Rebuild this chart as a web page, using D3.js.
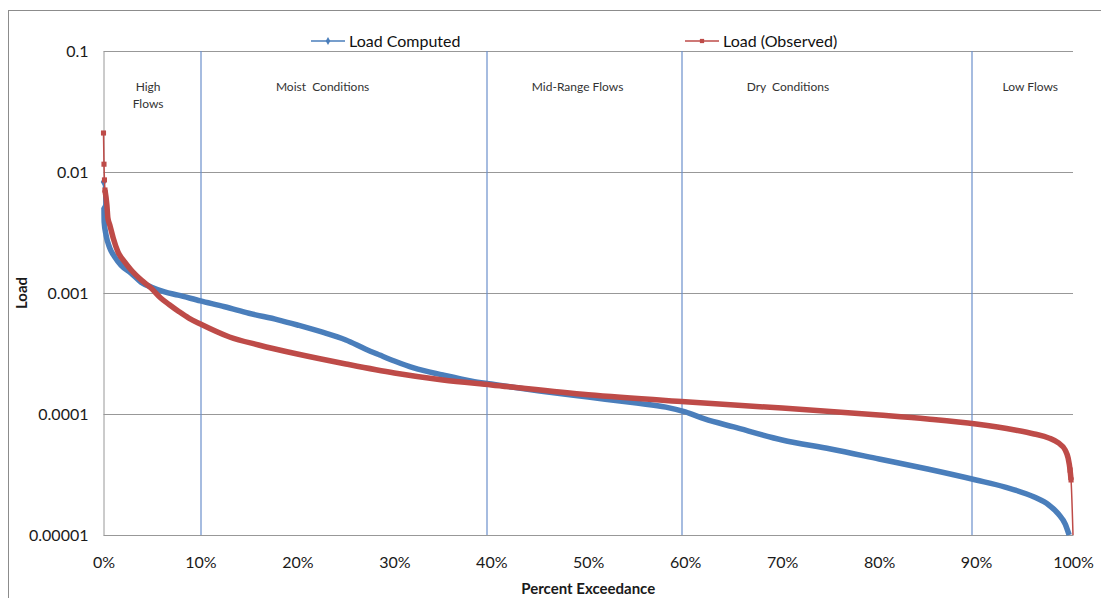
<!DOCTYPE html>
<html>
<head>
<meta charset="utf-8">
<script src="https://cdn.jsdelivr.net/npm/d3@7"></script>
<style>
  body { margin: 0; background: #fff; }
  svg text { font-family: Lato, "Open Sans", sans-serif; }
</style>
</head>
<body>
<div id="chart"></div>
<script>
// percent exceedance (0-100) and load
var computedPct = [0, 0.05, 0.07, 0.26, 0.64, 1.15, 1.8, 2.84, 3.87, 4.9, 6.3, 7.7, 10, 12.5, 15, 18, 20, 22.5, 25, 27, 28.5, 30, 32, 35, 38, 40, 45, 50, 55, 58, 60, 62, 65, 70, 75, 80, 85, 90, 93, 96, 97.5, 98.5, 99.2, 99.6];
var computedLoad = [0.00826, 0.00503, 0.00386, 0.00302, 0.00236, 0.00199, 0.0017, 0.00146, 0.00123, 0.00112, 0.00102, 0.00096, 0.00086, 0.00077, 0.00068, 0.0006, 0.000544, 0.000477, 0.000409, 0.000345, 0.000307, 0.000274, 0.00024, 0.00021, 0.000187, 0.000177, 0.000155, 0.000138, 0.000123, 0.000114, 0.000104, 0.000091, 0.0000782, 0.000061, 0.0000514, 0.0000425, 0.0000351, 0.0000285, 0.0000249, 0.0000206, 0.0000177, 0.0000149, 0.0000123, 0.00001];

var observedPct = [0, 0.05, 0.1, 0.15, 0.35, 0.45, 0.65, 1.0, 1.5, 2.2, 2.85, 3.9, 4.9, 5.9, 6.8, 7.8, 8.8, 10, 13, 16, 20, 25, 30, 35, 40, 50, 60, 70, 80, 85, 90, 94, 96, 97.5, 98.5, 99.2, 99.5, 99.7, 99.8, 100];
var observedLoad = [0.021, 0.0116, 0.0086, 0.0071, 0.00533, 0.00417, 0.00365, 0.00285, 0.00218, 0.0018, 0.00155, 0.00128, 0.0011, 0.00091, 0.0008, 0.0007, 0.00062, 0.000554, 0.000433, 0.000372, 0.000313, 0.000259, 0.000218, 0.000191, 0.000174, 0.000144, 0.000126, 0.000112, 0.0000981, 0.000091, 0.0000827, 0.0000738, 0.0000684, 0.0000634, 0.0000576, 0.0000503, 0.0000432, 0.0000344, 0.0000285, 0.00001];

var yTicks = [0.00001, 0.0001, 0.001, 0.01, 0.1];
var yTickLabels = ["0.00001", "0.0001", "0.001", "0.01", "0.1"];
var xTicks = [0, 10, 20, 30, 40, 50, 60, 70, 80, 90, 100];
// zone separators as drawn on the original (a little left of the round values)
var flowBreaks = [10, 39.5, 59.6, 89.55];
var zoneNames = [["High", "Flows"], ["Moist  Conditions"], ["Mid-Range Flows"], ["Dry  Conditions"], ["Low Flows"]];
var zoneCenters = [4.6, 22.6, 48.9, 70.6, 95.6];

var svgWidth = 1101;
var svgHeight = 598;
var margin = { top: 51, left: 103.5, right: 28, bottom: 63 };
var chartWidth = svgWidth - margin.left - margin.right;
var chartHeight = svgHeight - margin.top - margin.bottom;

var blue = "#4a7ebb";
var red = "#be4b48";

var svg = d3.select("#chart")
  .append("svg")
  .attr("width", svgWidth)
  .attr("height", svgHeight);

// outer chart frame (runs off the picture on the right and bottom)
svg.append("rect")
  .attr("x", 8.5).attr("y", 10.5)
  .attr("width", 1200).attr("height", 700)
  .attr("fill", "none")
  .attr("stroke", "#8c8c8c");

var chartGroup = svg.append("g")
  .attr("transform", `translate(${margin.left}, ${margin.top})`);

var xScale = d3.scaleLinear().domain([0, 100]).range([0, chartWidth]);
var yScale = d3.scaleLog().domain([0.00001, 0.1]).range([chartHeight, 0]);

// horizontal gridlines
chartGroup.selectAll(".grid")
  .data(yTicks)
  .enter()
  .append("line")
  .attr("x1", 0).attr("x2", chartWidth)
  .attr("y1", d => Math.round(yScale(d)) + 0.5)
  .attr("y2", d => Math.round(yScale(d)) + 0.5)
  .attr("stroke", "#989898");

// y axis
var yAxis = d3.axisLeft(yScale)
  .tickValues(yTicks)
  .tickFormat((d, i) => yTickLabels[i])
  .tickSize(0)
  .tickPadding(15);

var yG = chartGroup.append("g").call(yAxis);
yG.select(".domain").attr("stroke", "#989898");
yG.selectAll("text")
  .attr("font-size", "16px")
  .attr("fill", "#1a1a1a")
  .attr("font-family", "Lato, sans-serif");

// x axis
var xAxis = d3.axisBottom(xScale)
  .tickValues(xTicks)
  .tickFormat(d => d + "%")
  .tickSize(0)
  .tickPadding(22);

var xG = chartGroup.append("g")
  .attr("transform", `translate(0, ${chartHeight})`)
  .call(xAxis);
xG.select(".domain").attr("stroke", "#989898");
xG.selectAll("text")
  .attr("font-size", "16px")
  .attr("fill", "#1a1a1a")
  .attr("font-family", "Lato, sans-serif");

// flow zone separators
chartGroup.selectAll(".zone")
  .data(flowBreaks)
  .enter()
  .append("line")
  .attr("x1", d => Math.round(xScale(d)) + 0.5)
  .attr("x2", d => Math.round(xScale(d)) + 0.5)
  .attr("y1", 0).attr("y2", chartHeight)
  .attr("stroke", "#6b8fcc")
  .attr("stroke-width", 1.2);

// zone labels
zoneNames.forEach(function(lines, i) {
  var t = chartGroup.append("text")
    .attr("x", xScale(zoneCenters[i]))
    .attr("y", 40)
    .attr("text-anchor", "middle")
    .attr("font-size", "12px")
    .attr("fill", "#333")
    .style("white-space", "pre");
  lines.forEach(function(s, j) {
    t.append("tspan")
      .attr("x", xScale(zoneCenters[i]))
      .attr("dy", j === 0 ? 0 : 17)
      .text(s);
  });
});

function series(pct, load) {
  return pct.map((p, i) => ({ p: p, v: load[i] }));
}
var computed = series(computedPct, computedLoad);
var observed = series(observedPct, observedLoad);

var line = d3.line()
  .x(d => xScale(d.p))
  .y(d => yScale(d.v))
  .curve(d3.curveMonotoneX);

// thin lines for whole series, thick band where markers crowd together
function drawSeries(data, color, thickFrom, thickTo, markerIdx, shape) {
  chartGroup.append("path")
    .datum(data)
    .attr("d", line)
    .attr("fill", "none")
    .attr("stroke", color)
    .attr("stroke-width", 1.5);
  chartGroup.append("path")
    .datum(data.slice(thickFrom, thickTo))
    .attr("d", line)
    .attr("fill", "none")
    .attr("stroke", color)
    .attr("stroke-width", 5.5)
    .attr("stroke-linejoin", "round");
  chartGroup.selectAll(null)
    .data(markerIdx.map(i => data[i]))
    .enter()
    .append("path")
    .attr("transform", d => `translate(${xScale(d.p)}, ${yScale(d.v)})`)
    .attr("d", d3.symbol().type(shape).size(26))
    .attr("fill", color);
}

drawSeries(computed, blue, 1, computed.length, [0, 1], d3.symbolDiamond);
drawSeries(observed, red, 3, observed.length - 1, [0, 1, 2, 3, observed.length - 3, observed.length - 2], d3.symbolSquare);

// axis titles
svg.append("text")
  .attr("x", margin.left + chartWidth / 2)
  .attr("y", 594)
  .attr("text-anchor", "middle")
  .attr("font-size", "15px")
  .attr("font-weight", "bold")
  .attr("fill", "#1a1a1a")
  .text("Percent Exceedance");

svg.append("text")
  .attr("transform", "translate(27, 293) rotate(-90)")
  .attr("text-anchor", "middle")
  .attr("font-size", "15px")
  .attr("font-weight", "bold")
  .attr("fill", "#1a1a1a")
  .text("Load");

// legend
var legendItems = [
  { name: "Load Computed", color: blue, shape: d3.symbolDiamond, x: 311 },
  { name: "Load (Observed)", color: red, shape: d3.symbolSquare, x: 685 }
];
var legend = svg.selectAll(".legend")
  .data(legendItems)
  .enter()
  .append("g")
  .attr("transform", d => `translate(${d.x}, 41)`);
legend.append("line")
  .attr("x1", 0).attr("x2", 34)
  .attr("stroke", d => d.color)
  .attr("stroke-width", 1.5);
legend.append("path")
  .attr("transform", "translate(17, 0)")
  .attr("d", d => d3.symbol().type(d.shape).size(18)())
  .attr("fill", d => d.color);
legend.append("text")
  .attr("x", 38)
  .attr("y", 6)
  .attr("font-size", "16px")
  .attr("fill", "#111")
  .text(d => d.name);
</script>
</body>
</html>
